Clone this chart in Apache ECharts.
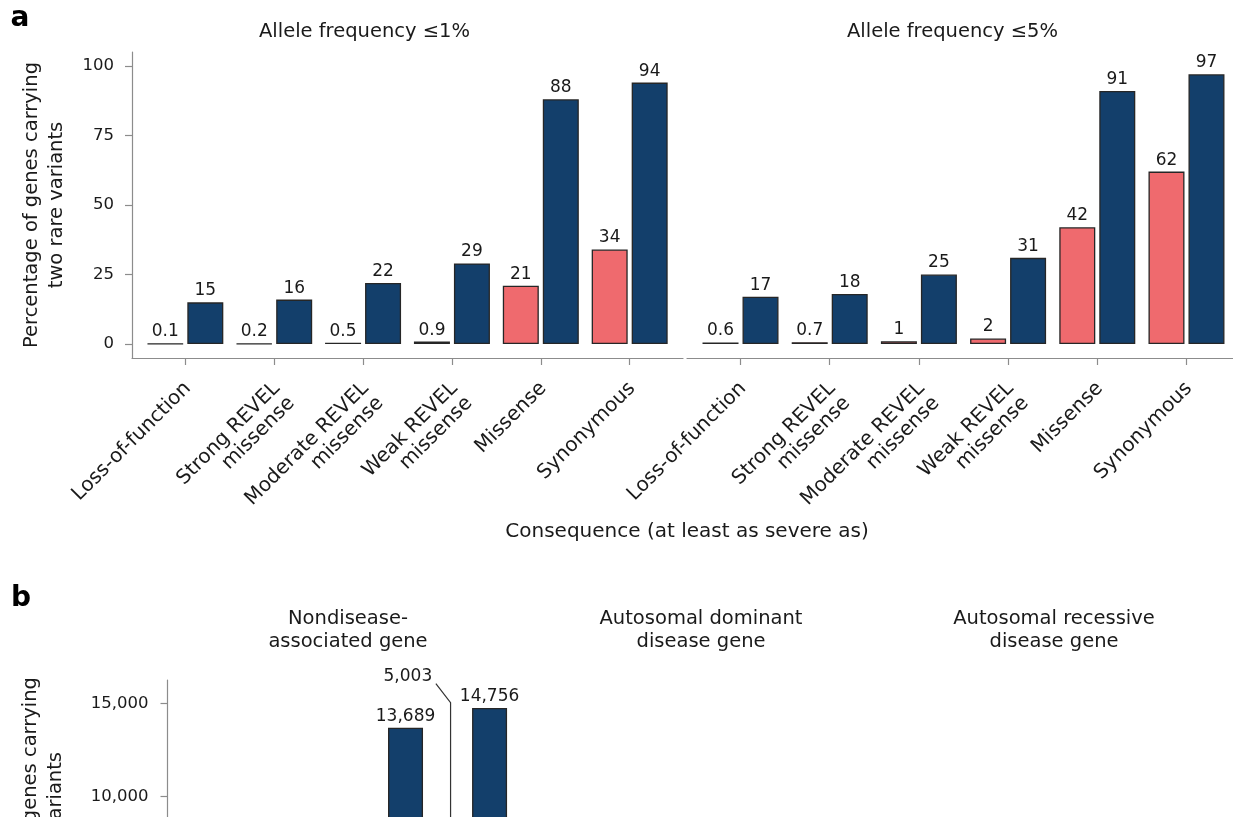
<!DOCTYPE html>
<html>
<head>
<meta charset="utf-8">
<script src="https://cdn.jsdelivr.net/npm/echarts@6.0.0/dist/echarts.min.js"></script>
<style>
  html, body { margin: 0; padding: 0; background: #fff; }
  #chart { width: 1233px; height: 817px; }
</style>
</head>
<body>
<div id="chart"></div>
<script>
  // panel a: share of genes carrying two rare variants (%)
  var consequences = ['Loss-of-function', 'Strong REVEL\nmissense', 'Moderate REVEL\nmissense',
    'Weak REVEL\nmissense', 'Missense', 'Synonymous'];
  var af1Pink = [0.1, 0.2, 0.5, 0.9, 21, 34];
  var af1Navy = [15, 16, 22, 29, 88, 94];
  var af5Pink = [0.6, 0.7, 1, 2, 42, 62];
  var af5Navy = [17, 18, 25, 31, 91, 97];
  var pctTicks = [0, 25, 50, 75, 100];

  // panel b: gene counts (only the top of this panel is in the picture)
  var geneNavyAt = [2, 3];
  var geneNavy = [13689, 14756];
  var genePinkAt = [3];
  var genePink = [5003];
  var countTicks = [0, 5000, 10000, 15000];
  // where the repelled "5,003" label sits (data units) and where its leader bends
  var leader5003 = { labelAt: [2.26, 16430], bendAt: 15035 };

  var FONT = 'DejaVu Sans';
  var INK = '#1a1a1a';
  var AXIS_GREY = '#8c8c8c';
  var PINK = '#ef6a6e';
  var NAVY = '#133f6b';
  var EDGE = '#262626';
  var BAR_A = 36, BAR_B = 35, GAP = 4;

  var consequenceAt = consequences.map(function (c, i) { return i; });

  function pairs(at, vals) {
    return vals.map(function (v, i) { return [at[i], v]; });
  }
  function commas(v) {
    return String(v).replace(/\B(?=(\d{3})+(?!\d))/g, ',');
  }

  function bars(axis, at, vals, color, width, withLabel, fmt) {
    return {
      type: 'bar', xAxisIndex: axis, yAxisIndex: axis,
      data: pairs(at, vals),
      barWidth: width, barGap: (GAP / width * 100).toFixed(1) + '%',
      itemStyle: { color: color, borderColor: EDGE, borderWidth: 1.3 },
      label: {
        show: withLabel, position: 'top', distance: 3,
        fontFamily: FONT, fontSize: 17, color: INK,
        formatter: function (p) { return fmt(p.value[1]); }
      },
      silent: true
    };
  }

  var line = { color: AXIS_GREY, width: 1.2 };

  function catAxis(grid, n, labels) {
    return {
      type: 'value', gridIndex: grid, min: -0.6, max: n - 0.4,
      axisLine: { show: true, onZero: false, lineStyle: line },
      axisTick: { show: true, customValues: consequenceAt.slice(0, n), length: 7, lineStyle: line },
      axisLabel: {
        show: labels, customValues: consequenceAt.slice(0, n),
        formatter: function (v) { return consequences[v]; },
        rotate: 45, align: 'right', verticalAlign: 'top', margin: 15, padding: [0, 7, 0, 0],
        fontFamily: FONT, fontSize: 20, lineHeight: 21, color: INK
      },
      splitLine: { show: false }
    };
  }

  var option = {
    animation: false,
    backgroundColor: '#fff',
    grid: [
      { left: 132, top: 52, width: 551, height: 306, outerBoundsMode: 'none' },
      { left: 687, top: 52, width: 553, height: 306, outerBoundsMode: 'none' },
      { left: 167.5, top: 680, width: 353, height: 318.2, outerBoundsMode: 'none' }
    ],
    xAxis: [
      catAxis(0, 6, true),
      catAxis(1, 6, true),
      {
        type: 'value', gridIndex: 2, min: -0.6, max: 3.6,
        axisLine: { show: true, onZero: false, lineStyle: line },
        axisTick: { show: false }, axisLabel: { show: false }, splitLine: { show: false }
      }
    ],
    yAxis: [
      {
        type: 'value', gridIndex: 0, min: -5, max: 105,
        axisLine: { show: true, onZero: false, lineStyle: line },
        axisTick: { show: true, customValues: pctTicks, length: 7, lineStyle: line },
        axisLabel: { customValues: pctTicks, margin: 18, fontFamily: FONT, fontSize: 16.5, color: INK },
        splitLine: { show: false },
        name: 'Percentage of genes carrying\ntwo rare variants',
        nameLocation: 'middle', nameGap: 63, nameMoveOverlap: false,
        nameTextStyle: { fontFamily: FONT, fontSize: 19.5, lineHeight: 25, color: INK }
      },
      { type: 'value', gridIndex: 1, min: -5, max: 105, show: false },
      {
        type: 'value', gridIndex: 2, min: -800, max: 16250,
        axisLine: { show: true, onZero: false, lineStyle: line },
        axisTick: { show: true, customValues: countTicks, length: 7, lineStyle: line },
        axisLabel: { customValues: countTicks, margin: 19, fontFamily: FONT, fontSize: 16.5, color: INK, formatter: commas },
        splitLine: { show: false }
      }
    ],
    series: [
      bars(0, consequenceAt, af1Pink, PINK, BAR_A, true, String),
      bars(0, consequenceAt, af1Navy, NAVY, BAR_A, true, String),
      bars(1, consequenceAt, af5Pink, PINK, BAR_A, true, String),
      bars(1, consequenceAt, af5Navy, NAVY, BAR_A, true, String),
      bars(2, genePinkAt, genePink, PINK, BAR_B, false, commas),
      bars(2, geneNavyAt, geneNavy, NAVY, BAR_B, true, commas),
      {
        // leader line from the pink bar up to its repelled label
        type: 'custom', xAxisIndex: 2, yAxisIndex: 2, clip: false, silent: true,
        data: pairs(genePinkAt, genePink),
        renderItem: function (params, api) {
          var foot = api.coord([api.value(0), api.value(1)]);
          var x = foot[0] - (BAR_B + GAP) / 2;
          var bend = api.coord([api.value(0), leader5003.bendAt]);
          var lab = api.coord(leader5003.labelAt);
          return {
            type: 'group',
            children: [
              {
                type: 'polyline',
                shape: { points: [[x, foot[1]], [x, bend[1]], [lab[0] + 28, lab[1] + 7]] },
                style: { stroke: '#333', lineWidth: 1.2, fill: null }
              },
              {
                type: 'text', x: lab[0], y: lab[1],
                style: {
                  text: commas(api.value(1)), align: 'center', verticalAlign: 'middle',
                  fontFamily: FONT, fontSize: 17, fill: INK
                }
              }
            ]
          };
        }
      }
    ],
    graphic: [
      { type: 'text', x: 20, y: 19, style: { text: 'a', align: 'center', verticalAlign: 'middle', fontFamily: FONT, fontWeight: 'bold', fontSize: 28, fill: '#000' } },
      { type: 'text', x: 21, y: 599, style: { text: 'b', align: 'center', verticalAlign: 'middle', fontFamily: FONT, fontWeight: 'bold', fontSize: 28, fill: '#000' } },
      { type: 'text', x: 364.5, y: 32, style: { text: 'Allele frequency ≤1%', align: 'center', verticalAlign: 'middle', fontFamily: FONT, fontSize: 19.5, fill: INK } },
      { type: 'text', x: 952.5, y: 32, style: { text: 'Allele frequency ≤5%', align: 'center', verticalAlign: 'middle', fontFamily: FONT, fontSize: 19.5, fill: INK } },
      { type: 'text', x: 687, y: 532, style: { text: 'Consequence (at least as severe as)', align: 'center', verticalAlign: 'middle', fontFamily: FONT, fontSize: 20, fill: INK } },
      { type: 'text', x: 348, y: 630, style: { text: 'Nondisease-\nassociated gene', align: 'center', verticalAlign: 'middle', lineHeight: 23, fontFamily: FONT, fontSize: 19.5, fill: INK } },
      { type: 'text', x: 701, y: 630, style: { text: 'Autosomal dominant\ndisease gene', align: 'center', verticalAlign: 'middle', lineHeight: 23, fontFamily: FONT, fontSize: 19.5, fill: INK } },
      { type: 'text', x: 1054, y: 630, style: { text: 'Autosomal recessive\ndisease gene', align: 'center', verticalAlign: 'middle', lineHeight: 23, fontFamily: FONT, fontSize: 19.5, fill: INK } },
      { type: 'text', x: 31, y: 677, rotation: Math.PI / 2, style: { text: 'Number of genes carrying', align: 'right', verticalAlign: 'middle', fontFamily: FONT, fontSize: 19.5, fill: INK } },
      { type: 'text', x: 56, y: 752, rotation: Math.PI / 2, style: { text: 'two rare variants', align: 'right', verticalAlign: 'middle', fontFamily: FONT, fontSize: 19.5, fill: INK } }
    ]
  };

  var chart = echarts.init(document.getElementById('chart'));
  chart.setOption(option);
</script>
</body>
</html>
